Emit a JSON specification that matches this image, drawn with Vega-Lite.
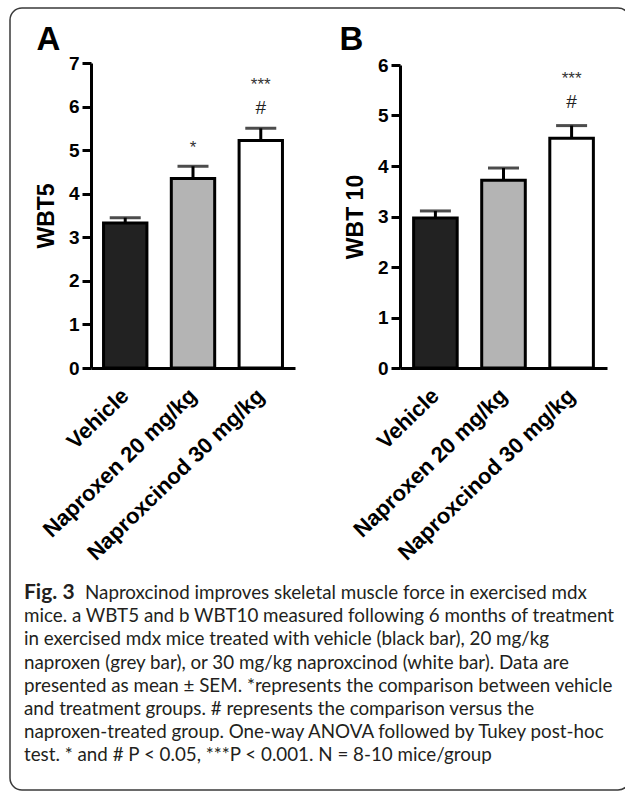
{
  "$schema": "https://vega.github.io/schema/vega-lite/v6.json",
  "background": "white",
  "width": 620,
  "height": 782,
  "padding": {"left": 10, "top": 8, "right": 0, "bottom": 5},
  "view": {"stroke": "#3a3a3a", "strokeWidth": 1.5, "cornerRadius": 12},
  "config": {
    "font": "Liberation Sans",
    "axis": {"labelFont": "Liberation Sans", "titleFont": "Liberation Sans", "labelColor": "black", "titleColor": "black", "domainColor": "black", "tickColor": "black", "grid": false}
  },
  "resolve": {"scale": {"x": "independent", "y": "independent"}, "axis": {"x": "independent", "y": "independent"}},
  "layer": [
    {
      "data": {"values": [
        {"line": 1, "part": "lead", "text": "Fig. 3"},
        {"line": 1, "part": "rest", "text": "Naproxcinod improves skeletal muscle force in exercised mdx"},
        {"line": 2, "part": "body", "text": "mice. a WBT5 and b WBT10 measured following 6 months of treatment"},
        {"line": 3, "part": "body", "text": "in exercised mdx mice treated with vehicle (black bar), 20 mg/kg"},
        {"line": 4, "part": "body", "text": "naproxen (grey bar), or 30 mg/kg naproxcinod (white bar). Data are"},
        {"line": 5, "part": "body", "text": "presented as mean ± SEM. *represents the comparison between vehicle"},
        {"line": 6, "part": "body", "text": "and treatment groups. # represents the comparison versus the"},
        {"line": 7, "part": "body", "text": "naproxen-treated group. One-way ANOVA followed by Tukey post-hoc"},
        {"line": 8, "part": "body", "text": "test. * and # P < 0.05, ***P < 0.001. N = 8-10 mice/group"}
      ]},
      "encoding": {
        "y": {"field": "line", "type": "quantitative", "scale": {"domain": [-24.216, 9.491], "reverse": true, "nice": false, "zero": false}, "axis": null},
        "text": {"field": "text"}
      },
      "layer": [
        {"transform": [{"filter": "datum.part == 'body'"}], "mark": {"type": "text", "align": "left", "baseline": "middle", "font": "Lato", "fontSize": 18.8, "color": "#231f20", "x": 14}},
        {"transform": [{"filter": "datum.part == 'rest'"}], "mark": {"type": "text", "align": "left", "baseline": "middle", "font": "Lato", "fontSize": 18.8, "color": "#231f20", "x": 75}},
        {"transform": [{"filter": "datum.part == 'lead'"}], "mark": {"type": "text", "align": "left", "baseline": "middle", "font": "Lato", "fontSize": 21, "fontWeight": "bold", "color": "#231f20", "x": 14}}
      ]
    },
    {
      "data": {"values": [{"label": "A"}]},
      "mark": {"type": "text", "x": 38.5, "y": 32, "align": "center", "baseline": "middle", "fontSize": 33, "fontWeight": "bold", "color": "black"},
      "encoding": {"text": {"field": "label"}}
    },
    {
      "data": {"values": [{"label": "B"}]},
      "mark": {"type": "text", "x": 341.5, "y": 32, "align": "center", "baseline": "middle", "fontSize": 33, "fontWeight": "bold", "color": "black"},
      "encoding": {"text": {"field": "label"}}
    },
    {
      "data": {"values": [
        {"group": "Vehicle", "mean": 3.33, "hi": 3.45, "star": "", "hash": ""},
        {"group": "Naproxen 20 mg/kg", "mean": 4.35, "hi": 4.63, "star": "*", "hash": ""},
        {"group": "Naproxcinod 30 mg/kg", "mean": 5.22, "hi": 5.5, "star": "***", "hash": "#"}
      ]},
      "encoding": {
        "x": {"field": "group", "type": "nominal", "sort": null, "title": null,
          "scale": {"range": [81, 285], "paddingInner": 0.36, "paddingOuter": 0.185},
          "axis": {"orient": "bottom", "offset": -422, "domainWidth": 3, "ticks": false, "labelAngle": -44, "labelFontSize": 22, "labelFontWeight": "bold", "labelAlign": "right", "labelBaseline": "middle", "labelPadding": 24, "labelLimit": 400}}
      },
      "layer": [
        {
          "mark": {"type": "bar", "stroke": "black", "strokeWidth": 3},
          "encoding": {
            "y": {"field": "mean", "type": "quantitative", "title": "WBT5",
              "scale": {"domain": [0, 7], "range": [360, 55], "nice": false},
              "axis": {"orient": "left", "offset": -81, "values": [0, 1, 2, 3, 4, 5, 6, 7], "format": "d", "domainWidth": 3, "tickWidth": 3, "tickSize": 9, "labelFontSize": 19, "labelFontWeight": "bold", "labelPadding": 3, "titleFontSize": 23, "titleFontWeight": "bold", "titlePadding": 10}},
            "fill": {"field": "group", "type": "nominal", "legend": null,
              "scale": {"domain": ["Vehicle", "Naproxen 20 mg/kg", "Naproxcinod 30 mg/kg"], "range": ["#222222", "#b4b4b4", "#ffffff"]}}
          }
        },
        {
          "mark": {"type": "rule", "color": "black", "strokeWidth": 3},
          "encoding": {"y": {"field": "mean", "type": "quantitative", "title": "WBT5"}, "y2": {"field": "hi"}}
        },
        {
          "mark": {"type": "tick", "color": "black", "thickness": 3, "size": 31},
          "encoding": {"y": {"field": "hi", "type": "quantitative", "title": "WBT5"}}
        },
        {
          "transform": [{"filter": "datum.hash != ''"}],
          "mark": {"type": "text", "fontSize": 19, "color": "#222", "baseline": "middle", "dy": -20},
          "encoding": {"y": {"field": "hi", "type": "quantitative", "title": "WBT5"}, "text": {"field": "hash"}}
        },
        {
          "transform": [{"filter": "datum.hash == '' && datum.star != ''"}],
          "mark": {"type": "text", "fontSize": 17, "color": "#333", "baseline": "middle", "dy": -18},
          "encoding": {"y": {"field": "hi", "type": "quantitative", "title": "WBT5"}, "text": {"field": "star"}}
        },
        {
          "transform": [{"filter": "datum.hash != '' && datum.star != ''"}],
          "mark": {"type": "text", "fontSize": 17, "color": "#333", "baseline": "middle", "dy": -43},
          "encoding": {"y": {"field": "hi", "type": "quantitative", "title": "WBT5"}, "text": {"field": "star"}}
        }
      ]
    },
    {
      "data": {"values": [
        {"group": "Vehicle", "mean": 2.97, "hi": 3.11, "star": "", "hash": ""},
        {"group": "Naproxen 20 mg/kg", "mean": 3.72, "hi": 3.96, "star": "", "hash": ""},
        {"group": "Naproxcinod 30 mg/kg", "mean": 4.55, "hi": 4.8, "star": "***", "hash": "#"}
      ]},
      "encoding": {
        "x": {"field": "group", "type": "nominal", "sort": null, "title": null,
          "scale": {"range": [390, 597], "paddingInner": 0.36, "paddingOuter": 0.2},
          "axis": {"orient": "bottom", "offset": -422, "domainWidth": 3, "ticks": false, "labelAngle": -44, "labelFontSize": 22, "labelFontWeight": "bold", "labelAlign": "right", "labelBaseline": "middle", "labelPadding": 24, "labelLimit": 400}}
      },
      "layer": [
        {
          "mark": {"type": "bar", "stroke": "black", "strokeWidth": 3},
          "encoding": {
            "y": {"field": "mean", "type": "quantitative", "title": "WBT 10",
              "scale": {"domain": [0, 6], "range": [360, 57], "nice": false},
              "axis": {"orient": "left", "offset": -390, "values": [0, 1, 2, 3, 4, 5, 6], "format": "d", "domainWidth": 3, "tickWidth": 3, "tickSize": 9, "labelFontSize": 19, "labelFontWeight": "bold", "labelPadding": 3, "titleFontSize": 23, "titleFontWeight": "bold", "titlePadding": 10}},
            "fill": {"field": "group", "type": "nominal", "legend": null,
              "scale": {"domain": ["Vehicle", "Naproxen 20 mg/kg", "Naproxcinod 30 mg/kg"], "range": ["#222222", "#b4b4b4", "#ffffff"]}}
          }
        },
        {
          "mark": {"type": "rule", "color": "black", "strokeWidth": 3},
          "encoding": {"y": {"field": "mean", "type": "quantitative", "title": "WBT 10"}, "y2": {"field": "hi"}}
        },
        {
          "mark": {"type": "tick", "color": "black", "thickness": 3, "size": 31},
          "encoding": {"y": {"field": "hi", "type": "quantitative", "title": "WBT 10"}}
        },
        {
          "transform": [{"filter": "datum.hash != ''"}],
          "mark": {"type": "text", "fontSize": 19, "color": "#222", "baseline": "middle", "dy": -24},
          "encoding": {"y": {"field": "hi", "type": "quantitative", "title": "WBT 10"}, "text": {"field": "hash"}}
        },
        {
          "transform": [{"filter": "datum.hash != '' && datum.star != ''"}],
          "mark": {"type": "text", "fontSize": 17, "color": "#333", "baseline": "middle", "dy": -47},
          "encoding": {"y": {"field": "hi", "type": "quantitative", "title": "WBT 10"}, "text": {"field": "star"}}
        }
      ]
    }
  ]
}
